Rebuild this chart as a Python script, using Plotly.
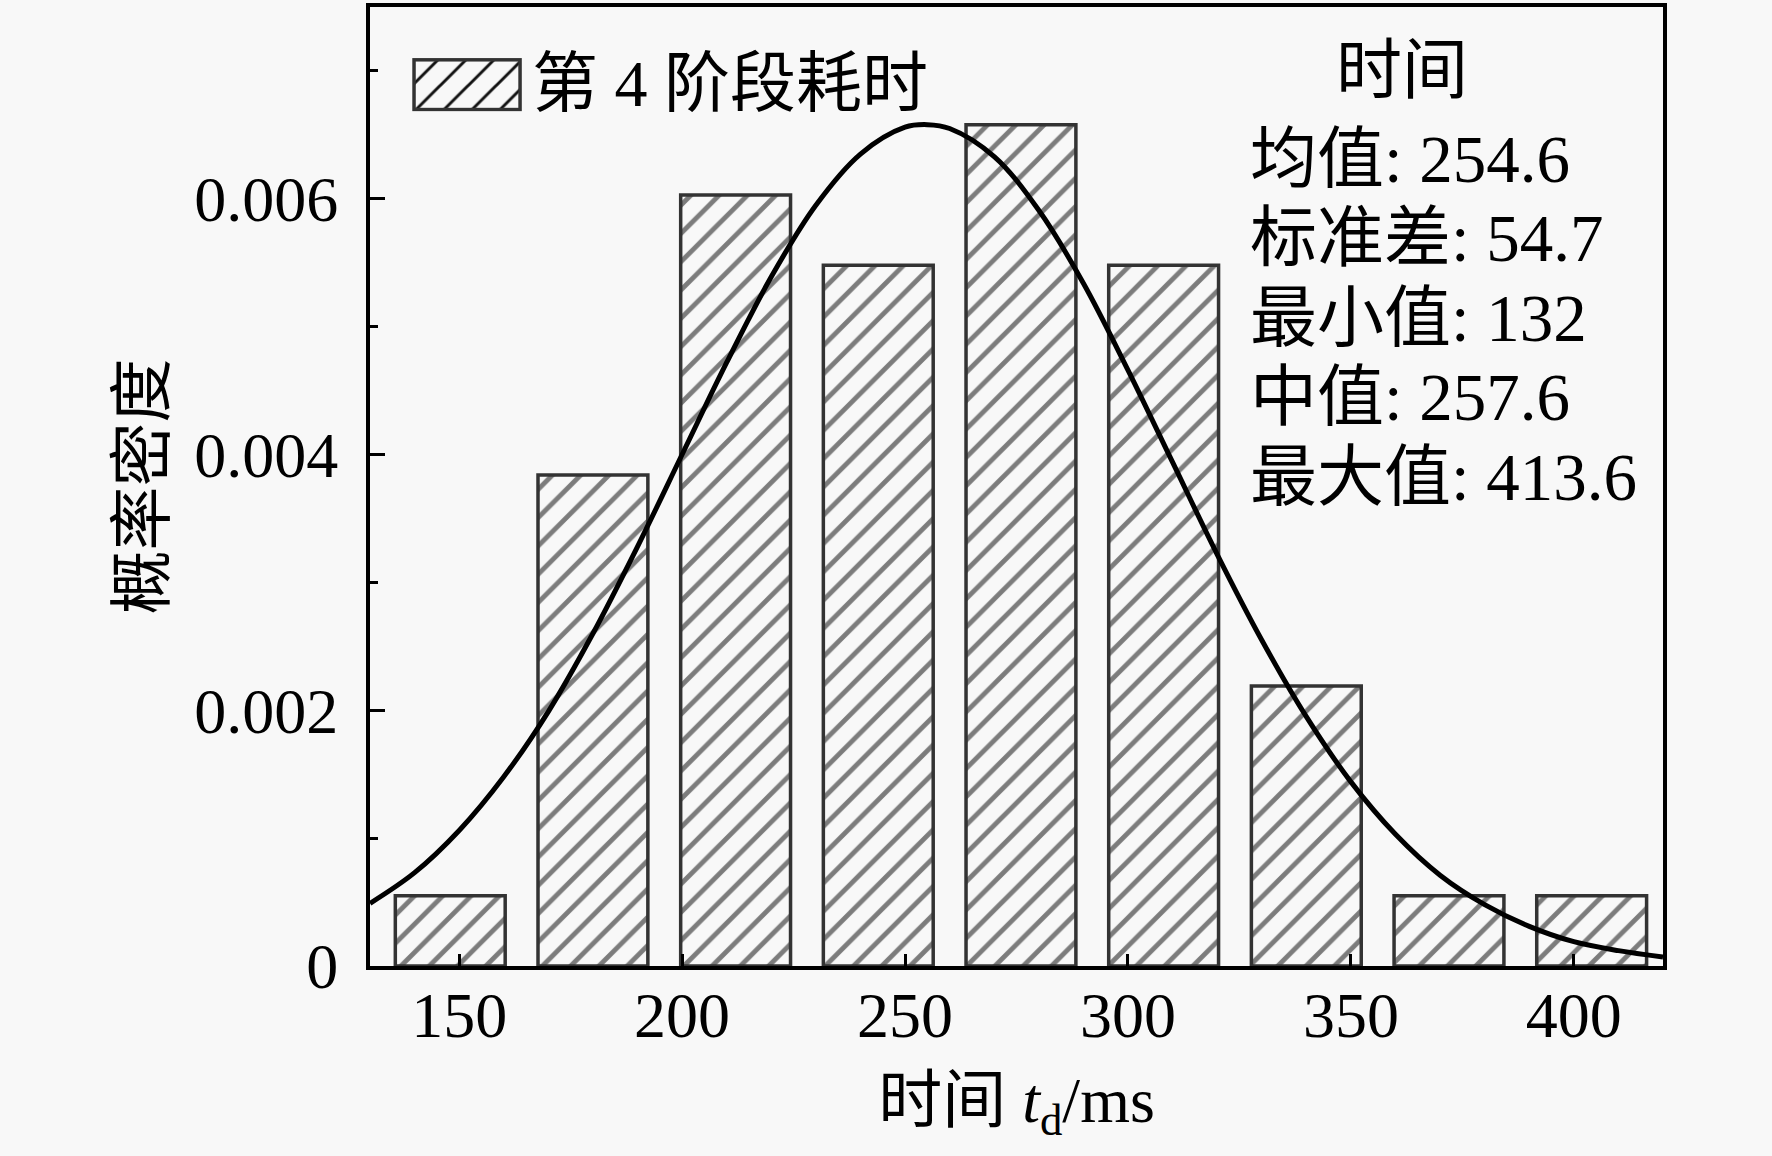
import base64
import plotly.graph_objects as go

# histogram of stage-4 durations (bin width 32 ms, starting at 132)
bin_centers = [148, 180, 212, 244, 276, 308, 340, 372, 404]
densities = [0.00055, 0.00384, 0.00603, 0.00548, 0.00658, 0.00548, 0.00219, 0.00055, 0.00055]

# fitted normal curve
curve_x = [130, 140, 150, 160, 170, 180, 190, 200, 210, 220, 230, 240, 250, 255,
           260, 270, 280, 290, 300, 310, 320, 330, 340, 350, 360, 370, 380, 390,
           400, 410, 420]
curve_y = [0.00049, 0.00073, 0.00106, 0.00148, 0.00199, 0.0026, 0.00328, 0.004,
           0.00472, 0.00539, 0.00595, 0.00635, 0.00656, 0.00658, 0.00655, 0.00633,
           0.00591, 0.00534, 0.00466, 0.00394, 0.00322, 0.00255, 0.00195, 0.00144,
           0.00103, 0.00071, 0.00048, 0.00031, 0.00019, 0.00012, 0.00007]

x_ticks = [150, 200, 250, 300, 350, 400]
y_ticks = [0, 0.002, 0.004, 0.006]
y_tick_labels = ['0', '0.002', '0.004', '0.006']

legend_label = '第 4 阶段耗时'
stats_title = '时间'
stats_lines = ['均值: 254.6', '标准差: 54.7', '最小值: 132', '中值: 257.6', '最大值: 413.6']

FONT = 'Liberation Serif, Times New Roman, Noto Sans CJK SC'

# hatched legend key, drawn as a small svg (plotly's own bar key is tiny)
key_svg = (
    "<svg xmlns='http://www.w3.org/2000/svg' width='110' height='54' viewBox='0 0 110 54'>"
    "<defs><pattern id='h' width='28' height='28' patternUnits='userSpaceOnUse'>"
    "<path d='M0,28 L28,0 M-7,7 L7,-7 M21,35 L35,21' stroke='#111' stroke-width='3'/>"
    "</pattern></defs>"
    "<rect x='2' y='2' width='106' height='50' fill='#f8f8f8'/>"
    "<rect x='2' y='2' width='106' height='50' fill='url(#h)' stroke='#333' stroke-width='3.5'/>"
    "</svg>"
)
key_src = 'data:image/svg+xml;base64,' + base64.b64encode(key_svg.encode()).decode()

fig = go.Figure()

fig.add_trace(go.Bar(
    x=bin_centers, y=densities, name=legend_label, showlegend=False,
    marker=dict(color='#f8f8f8', line=dict(color='#333333', width=3.5),
                pattern=dict(shape='/', fgcolor='#000000', bgcolor='#f8f8f8',
                             size=20, solidity=0.24)),
))

fig.add_trace(go.Scatter(
    x=curve_x, y=curve_y, mode='lines', line=dict(color='black', width=5, shape='spline'),
    showlegend=False,
))

# legend
fig.add_layout_image(source=key_src, xref='paper', yref='paper', x=0.0325, y=0.947,
                     sizex=0.0851, sizey=0.056, sizing='stretch',
                     xanchor='left', yanchor='top', layer='above')
fig.add_annotation(x=0.1237, y=0.92, xref='paper', yref='paper', text=legend_label,
                   showarrow=False, xanchor='left', yanchor='middle',
                   font=dict(size=66, family=FONT, color='black'))

# stats text block
fig.add_annotation(x=0.798, y=0.9335, xref='paper', yref='paper', text=stats_title,
                   showarrow=False, xanchor='center', yanchor='middle',
                   font=dict(size=66, family=FONT, color='black'))
for i, line in enumerate(stats_lines):
    fig.add_annotation(x=0.679, y=0.842 - i * 0.083, xref='paper', yref='paper', text=line,
                       showarrow=False, xanchor='left', yanchor='middle',
                       font=dict(size=67, family=FONT, color='black'))

fig.update_layout(
    width=1772, height=1156,
    margin=dict(l=370, r=109, t=3, b=190),
    paper_bgcolor='#f8f8f8', plot_bgcolor='#f8f8f8',
    font=dict(family=FONT, size=64, color='black'),
    bargap=0.23,
    showlegend=False,
)

fig.update_xaxes(
    range=[130, 420], tickvals=x_ticks, ticks='inside', ticklen=12, tickwidth=3,
    tickcolor='black', showline=True, linecolor='black', linewidth=4, mirror=True,
    showgrid=False, zeroline=False, tickfont=dict(size=64, family=FONT),
    ticklabelstandoff=-10,
    title=dict(text='时间 <i>t</i><sub>d</sub>/ms', font=dict(size=64, family=FONT), standoff=28),
)
fig.update_yaxes(
    range=[0, 0.0075], tickvals=y_ticks, ticktext=y_tick_labels, ticks='inside',
    ticklen=15, tickwidth=3, tickcolor='black', showline=True, linecolor='black',
    linewidth=4, mirror=True, showgrid=False, zeroline=False,
    tickfont=dict(size=64, family=FONT), ticklabelstandoff=15,
    minor=dict(dtick=0.001, ticks='inside', ticklen=8, tickwidth=3, tickcolor='black'),
    title=dict(text='概率密度', font=dict(size=64, family=FONT), standoff=10),
)

fig.write_html("out.html", config={'displayModeBar': False},
               post_script="document.body.style.margin='0';")
